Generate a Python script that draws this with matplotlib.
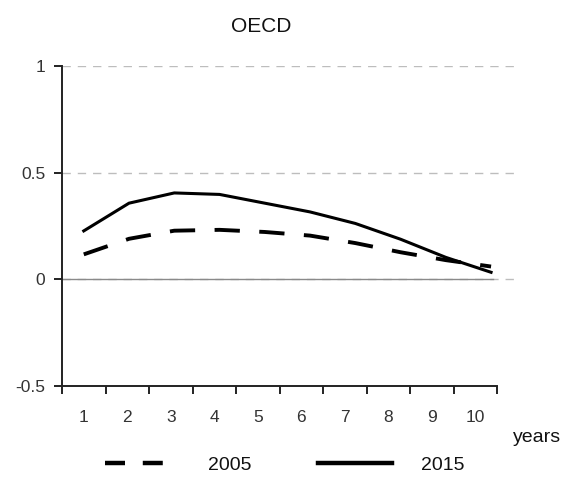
import matplotlib
matplotlib.use("Agg")
import matplotlib.pyplot as plt
from matplotlib.lines import Line2D
import numpy as np

plt.rcParams["font.family"] = ["Liberation Sans", "DejaVu Sans"]

# data
years = [1, 2, 3, 4, 5, 6, 7, 8, 9, 10]
tick_labels = ["1", "2", "3", "4", "5", "6", "7", "8", "9", "10"]
y2005 = [0.117, 0.19, 0.228, 0.232, 0.222, 0.205, 0.17, 0.127, 0.09, 0.06]
y2015 = [0.227, 0.357, 0.405, 0.398, 0.357, 0.316, 0.262, 0.188, 0.103, 0.033]
y_ticks = [-0.5, 0, 0.5, 1]
y_labels = ["-0.5", "0", "0.5", "1"]

# the lines in the source run slightly wider than the category slots
stretch = 1.04
xs = 1 + (np.array(years) - 1) * stretch

fig = plt.figure(figsize=(5.82, 4.8), dpi=100)
ax = fig.add_axes([62 / 582, 94 / 480, (515 - 62) / 582, 320 / 480])

ax.set_xlim(0.5, 10.91)
ax.set_ylim(-0.5, 1)

# grid: dashed light grey, zero line solid
for v in [0, 0.5, 1]:
    ax.axhline(v, color="#bdbdbd", lw=1, ls=(0, (6, 5)), zorder=1)
ax.plot([0.5, 10.4], [0, 0], color="#8a8a8a", lw=1, zorder=2)

ax.plot(xs, y2005, color="black", lw=2.8, ls=(0, (6.5, 5)), zorder=3)
ax.plot(xs, y2015, color="black", lw=2.2, zorder=3)

for s in ["top", "right"]:
    ax.spines[s].set_visible(False)
ax.spines["bottom"].set_bounds(0.5, 10.5)
for s in ["left", "bottom"]:
    ax.spines[s].set_color("#222222")
    ax.spines[s].set_linewidth(1.4)

ax.set_yticks(y_ticks)
ax.set_yticklabels(y_labels)
ax.set_xticks(np.arange(0.5, 11.0, 1))
ax.set_xticklabels([])
ax.set_xticks(years, minor=True)
ax.set_xticklabels(tick_labels, minor=True)
ax.tick_params(axis="x", which="major", length=6, width=1.4, color="#222222", direction="out")
ax.tick_params(axis="x", which="minor", length=0, pad=17, labelsize=12.5, labelcolor="#333333")
ax.tick_params(axis="y", length=6, width=1.4, color="#222222", labelsize=12.5,
               labelcolor="#333333", pad=6)

fig.text(261 / 582, 1 - 27 / 480, "OECD", ha="center", va="center", fontsize=15, color="#111111")
fig.text(513 / 582, 1 - 438 / 480, "years", ha="left", va="center", fontsize=14, color="#111111")

handles = [Line2D([], [], color="black", lw=3.2, ls=(0, (4.5, 4))),
           Line2D([], [], color="black", lw=3.2)]
fig.legend(handles, ["2005", "2015"], loc="center", bbox_to_anchor=(285 / 582, 1 - 465 / 480),
           ncol=2, frameon=False, handlelength=3.8, handletextpad=1.5, columnspacing=3.4,
           fontsize=14, labelcolor="#111111")

fig.savefig("out.png", dpi=100, facecolor="white")
